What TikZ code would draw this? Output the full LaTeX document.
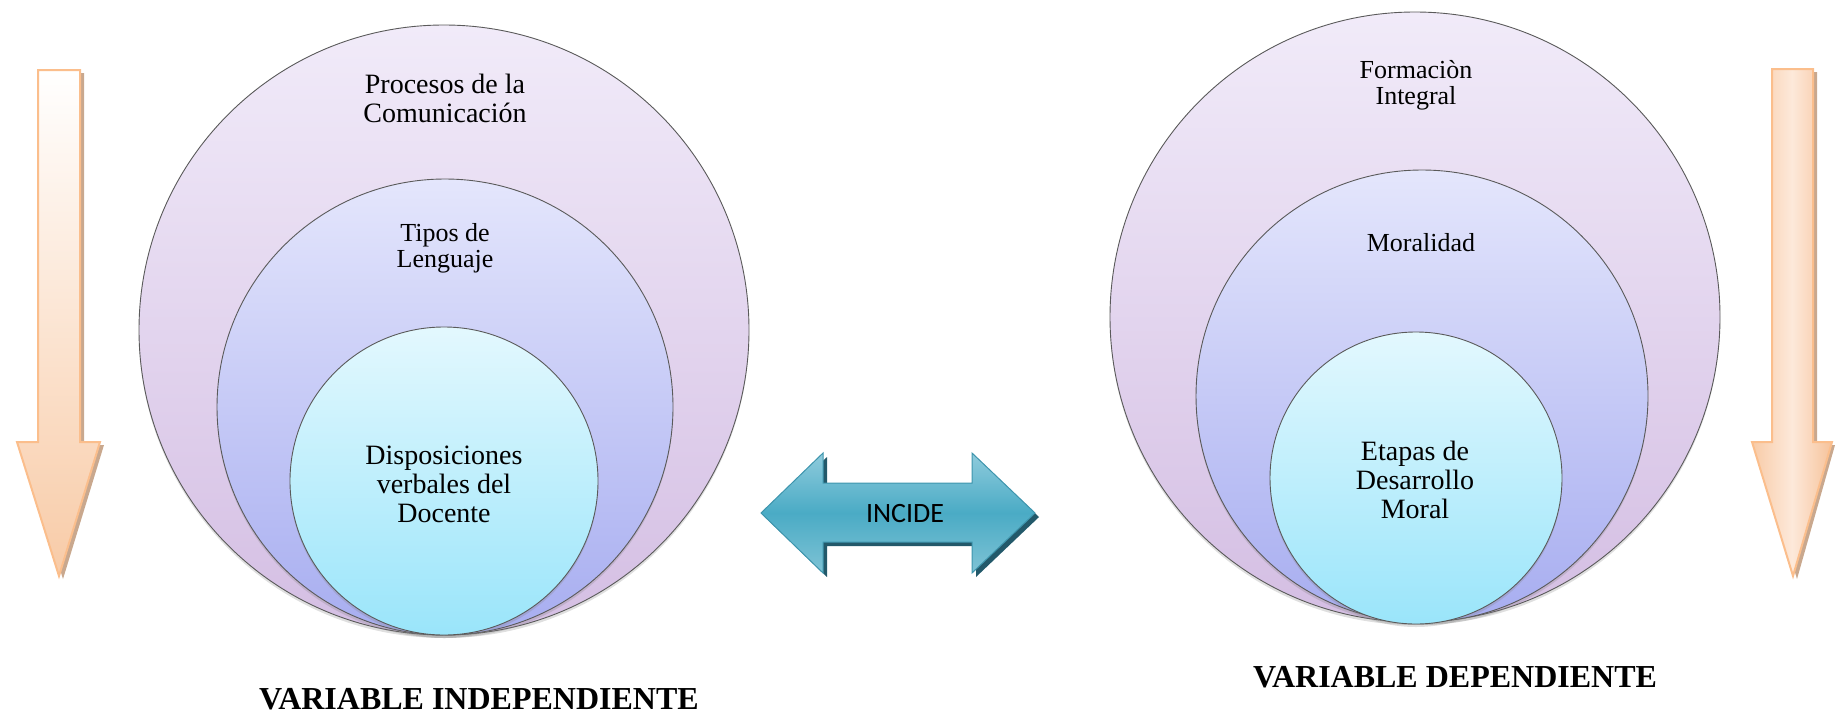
\documentclass[tikz,border=0pt]{standalone}
\usepackage{fontspec}
\setmainfont{Liberation Serif}
\newfontfamily\calibfont{Carlito}
\usetikzlibrary{shadows}
\definecolor{outTop}{HTML}{F1EBF9}
\definecolor{outBot}{HTML}{D4BEE3}
\definecolor{midTop}{HTML}{E4E6FC}
\definecolor{midBot}{HTML}{A7ADF0}
\definecolor{inTop}{HTML}{E3F8FE}
\definecolor{inBot}{HTML}{9AE5FA}
\definecolor{ringLine}{HTML}{5A5A5A}
\definecolor{peachLine}{HTML}{FBBE8C}
\definecolor{peachDark}{HTML}{F8CBA7}
\definecolor{peachLight}{HTML}{FDE9DA}
\definecolor{peachEnd}{HTML}{F6C29A}
\definecolor{peachShadow}{HTML}{C9A88E}
\definecolor{tealTop}{HTML}{8FCBDC}
\definecolor{tealMid}{HTML}{4AABC5}
\definecolor{tealBot}{HTML}{7FC3D5}
\definecolor{tealLine}{HTML}{3E95AD}
\definecolor{tealShadow}{HTML}{23596A}
\begin{document}
\begin{tikzpicture}[x=1pt,y=-1pt,
  ring/.style={circle, draw=ringLine, line width=0.9pt, inner sep=0pt,
    drop shadow={opacity=0.25, shadow xshift=0pt, shadow yshift=-3pt}},
  ringout/.style={ring, top color=outTop, bottom color=outBot},
  ringmid/.style={ring, top color=midTop, bottom color=midBot},
  ringin/.style={ring, top color=inTop, bottom color=inBot},
  lbl/.style={align=center, inner sep=0pt, text=black},
  big/.style={lbl, font=\fontsize{28}{29}\selectfont},
  med/.style={lbl, font=\fontsize{26}{26}\selectfont},
  title/.style={inner sep=0pt, font=\bfseries\fontsize{32}{36}\selectfont},
  peach/.style={draw=peachLine, line width=2pt, line join=miter},
]
\useasboundingbox (0,0) rectangle (1835,715);

% ---------- left downward arrow ----------
\fill[peachShadow] (42,73) -- (84,73) -- (84,445) -- (104,445) -- (63,579) -- (21,445) -- (42,445) -- cycle;
\path[peach, top color=white, bottom color=peachDark]
  (38,70) -- (80,70) -- (80,442) -- (100,442) -- (59,576) -- (17,442) -- (38,442) -- cycle;

% ---------- right downward arrow ----------
\fill[peachShadow] (1776,72) -- (1817,72) -- (1817,445) -- (1835,445) -- (1797,579) -- (1756,445) -- (1776,445) -- cycle;
\path[peach, left color=peachDark, right color=peachEnd, middle color=peachLight]
  (1772,69) -- (1813,69) -- (1813,442) -- (1832,442) -- (1793,576) -- (1752,442) -- (1772,442) -- cycle;

% ---------- left nested circles ----------
\node[ringout, minimum size=610pt] (lo) at (444,330) {};
\node[ringmid, minimum size=456pt] (lm) at (445,407) {};
\node[ringin, minimum size=308pt] (li) at (444,481) {};
\node[big] (tlo) at (445,98) {Procesos de la\\Comunicación};
\node[med] (tlm) at (445,248) {Tipos de\\Lenguaje};
\node[big] (tli) at (444,484) {Disposiciones\\verbales del\\Docente};

% ---------- right nested circles ----------
\node[ringout, minimum size=610pt] (ro) at (1415,317) {};
\node[ringmid, minimum size=452pt] (rm) at (1422,396) {};
\node[ringin, minimum size=292pt] (ri) at (1416,478) {};
\node[med] (tro) at (1416,85) {Formaciòn\\Integral};
\node[med] (trm) at (1421,243) {Moralidad};
\node[big] (tri) at (1415,480) {Etapas de\\Desarrollo\\Moral};

% ---------- central double arrow ----------
\fill[tealShadow] (765,517) -- (827,457) -- (827,487) -- (976,487) -- (976,457) -- (1039,517) -- (976,577) -- (976,546) -- (827,546) -- (827,577) -- cycle;
\path[draw=tealLine, line width=1pt, top color=tealTop, bottom color=tealBot, middle color=tealMid]
  (761,513) -- (823,453) -- (823,483) -- (972,483) -- (972,453) -- (1035,513)
  -- (972,573) -- (972,542) -- (823,542) -- (823,573) -- cycle;
\node[inner sep=0pt, font=\calibfont\fontsize{28}{32}\selectfont] (inc) at (905,514) {INCIDE};

% ---------- bottom titles ----------
\node[title] (vi) at (479,699) {VARIABLE INDEPENDIENTE};
\node[title] (vd) at (1455,677) {VARIABLE DEPENDIENTE};
\end{tikzpicture}
\end{document}
